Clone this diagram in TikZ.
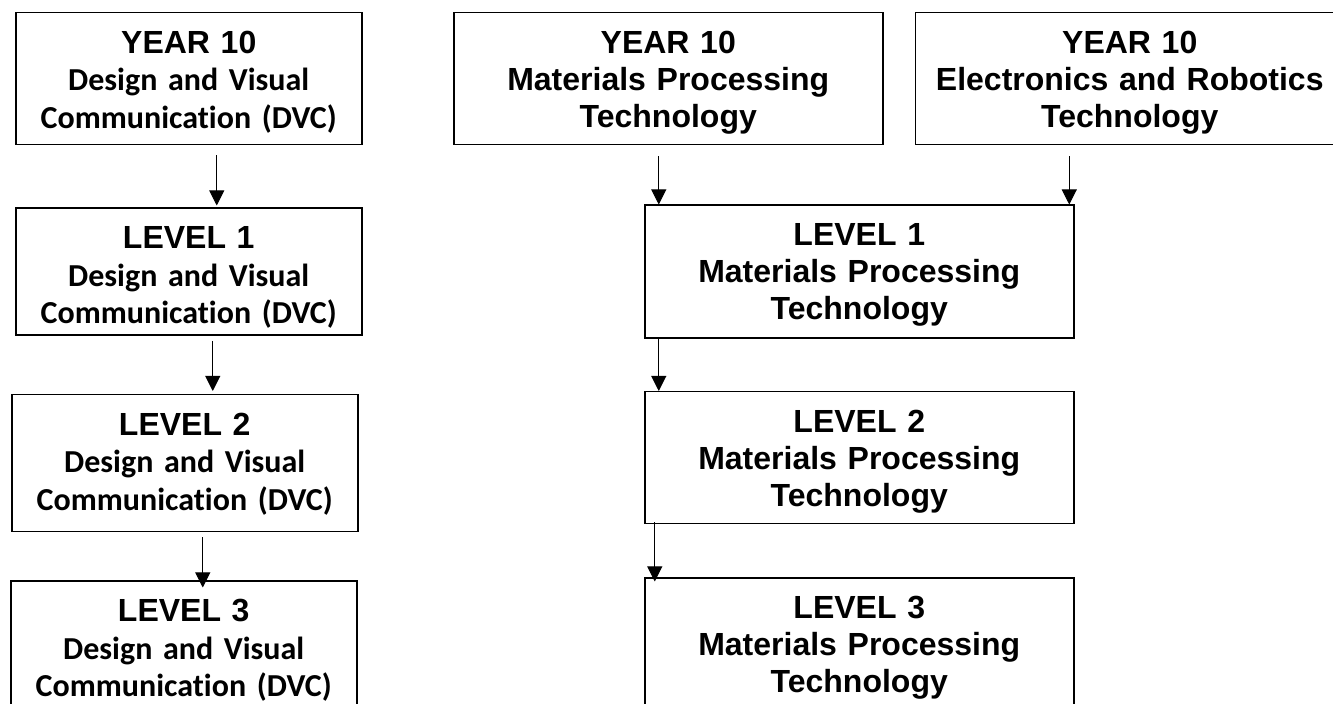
\documentclass[tikz,border=0pt]{standalone}
\usepackage{fontspec}
\setmainfont{Liberation Sans}
\newfontfamily\calibri[Ligatures=NoCommon]{Carlito}
\usetikzlibrary{arrows.meta,positioning,calc}

\begin{document}
\begin{tikzpicture}[
    x=0.5pt, y=-0.5pt,
    dvcbox/.style={rectangle, draw, line width=0.75pt, inner sep=0pt, text width=173pt, align=center, text height=20.25pt, font=\fontsize{16}{18.75}\selectfont\bfseries},
    mptbox/.style={rectangle, draw, line width=0.75pt, inner sep=0pt, text width=214.5pt, align=center, text height=20.25pt, font=\fontsize{16}{18.5}\selectfont\bfseries},
    arrow/.style={-{Triangle[width=7.5pt,length=7.5pt]}, line width=0.5pt}
]
\useasboundingbox (0,0) rectangle (1333,704);
\clip (0,0) rectangle (1333,704);

% DVC column
\node[dvcbox, text depth=45.75pt, anchor=north west] (y10dvc) at (15,12) {YEAR 10\\ {\calibri Design and Visual\\ Communication (DVC)}};
\node[dvcbox, text depth=43.25pt, below right=31pt and 0pt of y10dvc.south west] (l1dvc) {LEVEL 1\\ {\calibri Design and Visual\\ Communication (DVC)}};
\node[dvcbox, text depth=48.25pt, below right=29pt and -2pt of l1dvc.south west] (l2dvc) {LEVEL 2\\ {\calibri Design and Visual\\ Communication (DVC)}};
\node[dvcbox, text depth=48.25pt, below right=24pt and -0.5pt of l2dvc.south west] (l3dvc) {LEVEL 3\\ {\calibri Design and Visual\\ Communication (DVC)}};

% Year 10 technology
\node[mptbox, text depth=45.75pt, anchor=north west] (y10mpt) at (453,12) {YEAR 10\\ Materials Processing\\ Technology};
\node[mptbox, text depth=45.75pt, right=15.5pt of y10mpt] (y10ert) {YEAR 10\\ Electronics and Robotics\\ Technology};

% MPT column
\node[mptbox, text depth=46.25pt, below right=29.5pt and 95.5pt of y10mpt.south west] (l1mpt) {LEVEL 1\\ Materials Processing\\ Technology};
\node[mptbox, text depth=45.75pt, below=26pt of l1mpt] (l2mpt) {LEVEL 2\\ Materials Processing\\ Technology};
\node[mptbox, text depth=49.75pt, below=26.5pt of l2mpt] (l3mpt) {LEVEL 3\\ Materials Processing\\ Technology};

% Arrows
\draw[arrow] ([xshift=14pt,yshift=-5pt]y10dvc.south) -- ($(y10dvc.south |- l1dvc.north)+(14pt,1pt)$);
\draw[arrow] ([xshift=12pt,yshift=-2.5pt]l1dvc.south) -- ($(l1dvc.south |- l2dvc.north)+(12pt,1.5pt)$);
\draw[arrow] ([xshift=9pt,yshift=-2.5pt]l2dvc.south) -- ($(l2dvc.south |- l3dvc.north)+(9pt,-3.5pt)$);
\draw[arrow] ([xshift=-4.75pt,yshift=-5.5pt]y10mpt.south) -- ($(y10mpt.south |- l1mpt.north)+(-4.75pt,0pt)$);
\draw[arrow] ([xshift=-30.25pt,yshift=-5.5pt]y10ert.south) -- ($(y10ert.south |- l1mpt.north)+(-30.25pt,0pt)$);
\draw[arrow] ([xshift=-100.25pt]l1mpt.south) -- ($(l1mpt.south |- l2mpt.north)+(-100.25pt,0pt)$);
\draw[arrow] ([xshift=-102.25pt,yshift=1pt]l2mpt.south) -- ($(l2mpt.south |- l3mpt.north)+(-102.25pt,-2pt)$);

\end{tikzpicture}
\end{document}
